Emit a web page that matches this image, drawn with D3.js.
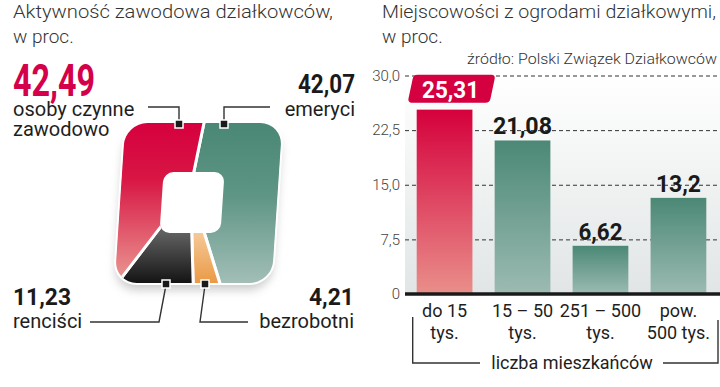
<!DOCTYPE html>
<html><head><meta charset="utf-8">
<script src="https://cdn.jsdelivr.net/npm/d3@7"></script>
<style>body{margin:0;background:#fff}svg{display:block}</style>
</head><body><svg id="c" width="720" height="387"></svg>
<script>
// ---------- data ----------
const segNames = ["emeryci", "bezrobotni", "renciści", "osoby czynne zawodowo"];
const segValues = [42.07, 4.21, 11.23, 42.49];
const cityCats = [["do 15", "tys."], ["15 – 50", "tys."], ["251 – 500", "tys."], ["pow.", "500 tys."]];
const cityValues = [25.31, 21.08, 6.62, 13.2];
const yTicks = [0, 7.5, 15, 22.5, 30];
const yTickLabels = ["0", "7,5", "15,0", "22,5", "30,0"];
const fmt = v => String(v).replace(".", ",");

const svg = d3.select("#c");
const defs = svg.append("defs");
const TXT = "Roboto, 'Noto Sans', sans-serif";
const NUM = "'Liberation Sans Narrow', 'Roboto', sans-serif";

function grad(id, stops, attrs) {
  const lg = defs.append("linearGradient").attr("id", id);
  Object.entries(attrs).forEach(([k, v]) => lg.attr(k, v));
  stops.forEach(s => lg.append("stop").attr("offset", s[0]).attr("stop-color", s[1]));
}
const us = {gradientUnits: "userSpaceOnUse", x1: 0, x2: 0, y1: -65, y2: 95};
grad("seg0", [[0, "#4a8775"], [0.45, "#5e9584"], [1, "#a2beb7"]], us);
grad("seg1", [[0, "#f6c898"], [1, "#ea9a45"]], {gradientUnits: "userSpaceOnUse", x1: 0, x2: 0, y1: 45, y2: 95});
grad("seg2", [[0, "#606060"], [1, "#141414"]], {gradientUnits: "userSpaceOnUse", x1: 0, x2: 0, y1: 45, y2: 95});
grad("seg3", [[0, "#d6003e"], [0.35, "#d81644"], [1, "#ea9b94"]], us);
grad("barRed", [[0, "#d5003c"], [1, "#e98f8a"]], {x1: 0, x2: 0, y1: 0, y2: 1});
grad("barGreen", [[0, "#4b8875"], [1, "#9cbbb2"]], {x1: 0, x2: 0, y1: 0, y2: 1});
grad("plotBg", [[0, "#ffffff"], [1, "#e1e5e5"]], {x1: 0, x2: 0, y1: 0, y2: 1});
defs.append("filter").attr("id", "blur").attr("x", "-30%").attr("y", "-30%").attr("width", "160%").attr("height", "160%")
  .append("feGaussianBlur").attr("stdDeviation", 5);

// ---------- left: square "donut" ----------
function rr(p, x, y, w, h, r) {
  p.moveTo(x + r, y);
  p.arcTo(x + w, y, x + w, y + h, r);
  p.arcTo(x + w, y + h, x, y + h, r);
  p.arcTo(x, y + h, x, y, r);
  p.arcTo(x, y, x + w, y, r);
  p.closePath();
}
const outerP = d3.path(); rr(outerP, -78.5, -80, 157, 160, 22);
const holeP = d3.path(); rr(holeP, -37, -31, 61, 61, 10);
defs.append("clipPath").attr("id", "donutClip")
  .append("path").attr("d", outerP.toString() + holeP.toString()).attr("clip-rule", "evenodd");

const g = svg.append("g").attr("transform", "translate(198.5,203) skewX(-3.8)");
g.append("path").attr("d", outerP.toString()).attr("transform", "translate(0,7)")
  .attr("fill", "#9a9a9a").attr("opacity", 0.5).attr("filter", "url(#blur)");
g.append("path").attr("d", outerP.toString()).attr("fill", "#fff").attr("stroke", "#fff").attr("stroke-width", 4);

const a0 = 8 * Math.PI / 180;
const pie = d3.pie().sort(null).startAngle(a0).endAngle(a0 + 2 * Math.PI);
const arc = d3.arc().innerRadius(0).outerRadius(260);
g.append("g").attr("clip-path", "url(#donutClip)")
  .append("g").attr("transform", "translate(-9,-15)")
  .selectAll("path").data(pie(segValues)).join("path")
  .attr("d", arc).attr("fill", (d, i) => `url(#seg${i})`)
  .attr("stroke", "#fff").attr("stroke-width", 3);

// leader lines + markers
const leaders = [
  "M148,107H179V122",
  "M270,107H224V122",
  "M90,322H159L166,285",
  "M248,322H200L205,285"
];
svg.append("g").selectAll("path").data(leaders).join("path").attr("d", d => d)
  .attr("fill", "none").attr("stroke", "#333").attr("stroke-width", 1.4);
const markers = [[179, 124], [224, 124], [166, 284], [205, 284]];
svg.append("g").selectAll("rect").data(markers).join("rect")
  .attr("x", d => d[0] - 4).attr("y", d => d[1] - 4).attr("width", 8).attr("height", 8)
  .attr("fill", "#1a1a1a").attr("stroke", "#fff").attr("stroke-width", 1.5);

// labels
const lbl = [
  {i: 3, x: 13, y: 96, size: 44, w: 82, anchor: "start", color: "#d4004a", lines: ["osoby czynne", "zawodowo"], ly: 116},
  {i: 0, x: 355, y: 93, size: 25, w: 57, anchor: "end", color: "#1a1a1a", lines: ["emeryci"], ly: 116},
  {i: 2, x: 13, y: 305, size: 23, w: 58, anchor: "start", color: "#1a1a1a", lines: ["renciści"], ly: 328},
  {i: 1, x: 354, y: 305, size: 23, w: 45, anchor: "end", color: "#1a1a1a", lines: ["bezrobotni"], ly: 328}
];
lbl.forEach(L => {
  svg.append("text").attr("x", L.x).attr("y", L.y).attr("text-anchor", L.anchor)
    .attr("font-family", NUM).attr("font-weight", "bold").attr("font-size", L.size)
    .attr("textLength", L.w).attr("lengthAdjust", "spacingAndGlyphs")
    .attr("fill", L.color).text(fmt(segValues[L.i]));
  L.lines.forEach((t, k) => svg.append("text").attr("x", L.x).attr("y", L.ly + k * 20)
    .attr("text-anchor", L.anchor).attr("font-family", TXT).attr("font-size", 20)
    .attr("fill", "#1e1e1e").text(t));
});

// titles
function title(x, y, t, w) {
  const el = svg.append("text").attr("x", x).attr("y", y).attr("font-family", TXT).attr("font-weight", 300)
    .attr("font-size", 19).attr("fill", "#333").text(t);
  if (w) el.attr("textLength", w).attr("lengthAdjust", "spacingAndGlyphs");
}
title(13, 18, "Aktywność zawodowa działkowców,", 320);
title(13, 43, "w proc.");
title(382, 18, "Miejscowości z ogrodami działkowymi,", 334);
title(382, 43, "w proc.");
svg.append("text").attr("x", 717).attr("y", 64).attr("text-anchor", "end")
  .attr("font-family", TXT).attr("font-weight", 300).attr("font-size", 15).attr("fill", "#333")
  .attr("textLength", 250).attr("lengthAdjust", "spacingAndGlyphs")
  .text("źródło: Polski Związek Działkowców");

// ---------- right: bar chart ----------
const y = d3.scaleLinear().domain([0, 30]).range([294, 75.5]);
const x = d3.scaleBand().domain(d3.range(cityValues.length)).range([405, 718])
  .paddingInner(0.285).paddingOuter(0.15);

svg.append("rect").attr("x", 405).attr("y", y(30)).attr("width", 315).attr("height", y(0) - y(30))
  .attr("fill", "url(#plotBg)");

const ax = svg.append("g").attr("transform", "translate(405,0)")
  .call(d3.axisLeft(y).tickValues(yTicks).tickFormat((d, i) => yTickLabels[i]).tickSize(-315).tickPadding(5));
ax.select(".domain").remove();
ax.selectAll(".tick line").attr("stroke", "#333").attr("stroke-dasharray", "4,3").attr("stroke-width", 1);
ax.selectAll(".tick text").attr("font-family", TXT).attr("font-weight", 300).attr("font-size", 15).attr("fill", "#444");

svg.append("g").selectAll("rect").data(cityValues).join("rect")
  .attr("x", (d, i) => x(i)).attr("width", x.bandwidth())
  .attr("y", d => y(d)).attr("height", d => y(0) - y(d))
  .attr("fill", (d, i) => i === 0 ? "url(#barRed)" : "url(#barGreen)");

svg.append("line").attr("x1", 405).attr("x2", 720).attr("y1", y(0)).attr("y2", y(0))
  .attr("stroke", "#1a1a1a").attr("stroke-width", 3.5);

// value labels
const valW = [57, 59, 44, 45];
cityValues.forEach((v, i) => {
  const cx = x(i) + x.bandwidth() / 2;
  if (i === 0) {
    svg.append("rect").attr("x", -41).attr("y", -14).attr("width", 82).attr("height", 28).attr("rx", 4)
      .attr("transform", `translate(${cx + 7},${y(v) - 21}) skewX(-12)`).attr("fill", "#d4003f");
    svg.append("text").attr("x", cx + 6).attr("y", y(v) - 12).attr("text-anchor", "middle")
      .attr("font-family", NUM).attr("font-weight", "bold").attr("font-size", 24)
      .attr("textLength", valW[i]).attr("lengthAdjust", "spacingAndGlyphs")
      .attr("fill", "#fff").text(fmt(v));
  } else {
    svg.append("text").attr("x", cx).attr("y", y(v) - 6).attr("text-anchor", "middle")
      .attr("font-family", NUM).attr("font-weight", "bold").attr("font-size", 24)
      .attr("textLength", valW[i]).attr("lengthAdjust", "spacingAndGlyphs")
      .attr("fill", "#1a1a1a").text(fmt(v));
  }
});

// category labels
cityCats.forEach((lines, i) => {
  const cx = x(i) + x.bandwidth() / 2;
  lines.forEach((t, k) => svg.append("text").attr("x", cx).attr("y", 317 + k * 22)
    .attr("text-anchor", "middle").attr("font-family", TXT).attr("font-size", 18).attr("fill", "#1e1e1e").text(t));
});
svg.append("path").attr("d", "M412.7,317V363H480M663,363H718V320").attr("fill", "none")
  .attr("stroke", "#333").attr("stroke-width", 1.4);
svg.append("text").attr("x", 572).attr("y", 369).attr("text-anchor", "middle")
  .attr("font-family", TXT).attr("font-size", 18).attr("fill", "#1e1e1e").text("liczba mieszkańców");
</script></body></html>
